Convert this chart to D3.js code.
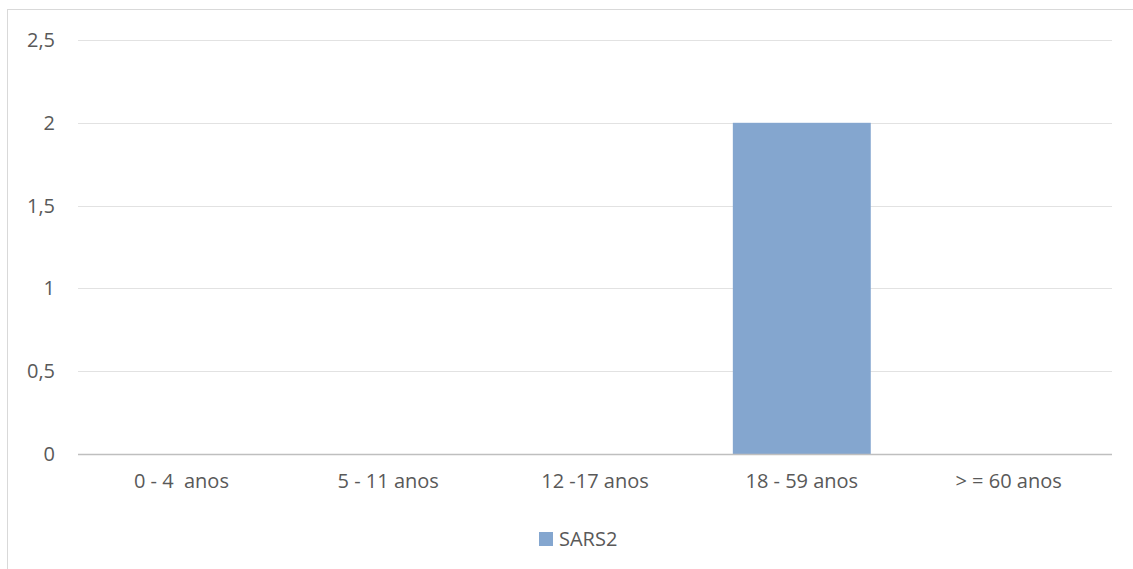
<!DOCTYPE html>
<html>
<head>
<meta charset="utf-8">
<script src="https://cdn.jsdelivr.net/npm/d3@7"></script>
<style>
    body { margin: 0; background: #fff; }
    svg { display: block; }
</style>
</head>
<body>
<svg width="1133" height="569"></svg>
<script>
// Chart data
var categories = ["0 - 4  anos", "5 - 11 anos", "12 -17 anos", "18 - 59 anos", "> = 60 anos"];
var sars2 = [0, 0, 0, 2, 0];
var yTicks = [0, 0.5, 1, 1.5, 2, 2.5];
var seriesName = "SARS2";

var svg = d3.select("svg");
var fontFamily = "'Open Sans', 'Liberation Sans', sans-serif";
var fontSize = "20px";
var textColor = "#595959";

// outer chart border
svg.append("rect")
    .attr("x", 7.5).attr("y", 9.5)
    .attr("width", 1140).attr("height", 600)
    .attr("fill", "none")
    .attr("stroke", "#d9d9d9");

// plot area (note: "top" is reserved on window, so use other names)
var plotLeft = 78, plotRight = 1112, plotTop = 40, plotBottom = 454;

var x = d3.scaleBand()
    .domain(categories)
    .range([plotLeft, plotRight])
    .paddingInner(0.333)
    .paddingOuter(0.1665);

var y = d3.scaleLinear()
    .domain([0, 2.5])
    .range([plotBottom, plotTop]);

// gridlines
svg.append("g")
    .selectAll("line")
    .data(yTicks.filter(function (d) { return d > 0; }))
    .enter()
    .append("line")
    .attr("x1", plotLeft).attr("x2", plotRight)
    .attr("y1", function (d) { return Math.round(y(d)) + 0.5; })
    .attr("y2", function (d) { return Math.round(y(d)) + 0.5; })
    .attr("stroke", "#e2e2e2")
    .attr("stroke-width", 1);

// bars
svg.append("g")
    .selectAll("rect")
    .data(sars2)
    .enter()
    .append("rect")
    .attr("x", function (d, i) { return x(categories[i]); })
    .attr("y", function (d) { return y(d); })
    .attr("width", x.bandwidth())
    .attr("height", function (d) { return plotBottom - y(d); })
    .attr("fill", "#84a6cf");

// x axis line
svg.append("line")
    .attr("x1", plotLeft).attr("x2", plotRight)
    .attr("y1", plotBottom + 0.5).attr("y2", plotBottom + 0.5)
    .attr("stroke", "#bfbfbf")
    .attr("stroke-width", 1.5);

// y axis
var yAxis = d3.axisLeft(y)
    .tickValues(yTicks)
    .tickSize(0)
    .tickPadding(0)
    .tickFormat(function (d) { return String(d).replace(".", ","); });
var yg = svg.append("g")
    .attr("transform", "translate(55,0)")
    .call(yAxis);
yg.select(".domain").remove();
yg.selectAll("text")
    .attr("font-family", fontFamily)
    .attr("font-size", fontSize)
    .attr("fill", textColor);

// x axis labels
var xAxis = d3.axisBottom(x).tickSize(0).tickPadding(0);
var xg = svg.append("g")
    .attr("transform", "translate(0," + (plotBottom + 20) + ")")
    .call(xAxis);
xg.select(".domain").remove();
xg.selectAll("text")
    .attr("font-family", fontFamily)
    .attr("font-size", fontSize)
    .attr("fill", textColor)
    .style("white-space", "pre");

// legend
var legend = svg.append("g").attr("transform", "translate(539,532)");
legend.append("rect")
    .attr("width", 14).attr("height", 14)
    .attr("fill", "#84a6cf");
legend.append("text")
    .attr("x", 20).attr("y", 7)
    .attr("dy", "0.35em")
    .attr("font-family", fontFamily)
    .attr("font-size", fontSize)
    .attr("fill", textColor)
    .text(seriesName);
</script>
</body>
</html>
